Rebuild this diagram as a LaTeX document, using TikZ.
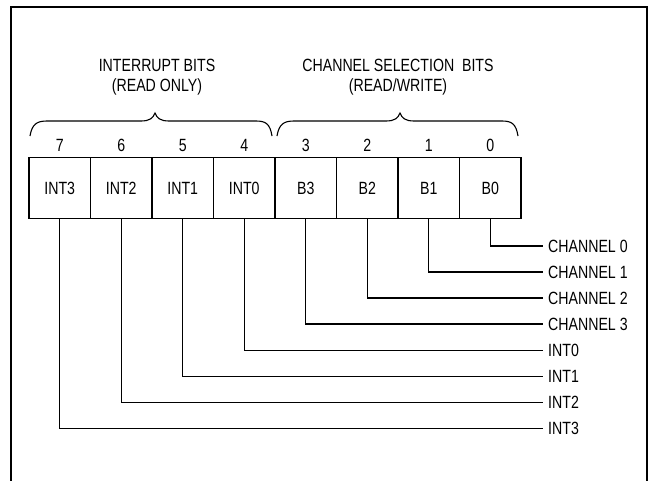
\documentclass[tikz,border=0pt]{standalone}
\usepackage{fontspec}
\setmainfont[FakeStretch=0.8]{Liberation Sans}
\begin{document}
\begin{tikzpicture}[x=1pt,y=-1pt,
  txt/.style={font=\fontsize{17.7}{19}\selectfont, inner sep=0pt},
  bitbox/.style={draw, line width=1.4pt, minimum width=61.5pt, minimum height=60.5pt, inner sep=0pt, font=\fontsize{17.7}{19}\selectfont},
  lbl/.style={txt, anchor=west, inner xsep=5pt},
  conn/.style={line width=1.1pt},
  bracepath/.style={line width=1.1pt},
  frame/.style={line width=1.8pt}]
\useasboundingbox (0,0) rectangle (650,480);
% frame
\draw[frame] (11,490) -- (11,7) -- (647,7) -- (647,490);
% titles
\node[txt] (t1a) at (157,65) {INTERRUPT BITS};
\node[txt] (t1b) at (157,87) {(READ ONLY)};
\node[txt] (t2a) at (398,65) {CHANNEL SELECTION~ BITS};
\node[txt] (t2b) at (398,87) {(READ/WRITE)};
% braces
\draw[bracepath] (30,136) .. controls (32,124) and (37,121) .. (47,121) -- (141,121)
  .. controls (150,121) and (153,118) .. (155,113) .. controls (157,118) and (160,121) .. (169,121)
  -- (256,121) .. controls (266,121) and (270,124) .. (272,136);
\draw[bracepath] (277,136) .. controls (279,124) and (284,121) .. (294,121) -- (386,121)
  .. controls (395,121) and (398,118) .. (400,113) .. controls (402,118) and (405,121) .. (414,121)
  -- (502,121) .. controls (512,121) and (516,124) .. (518,136);
% bit numbers and boxes
\foreach \i/\n/\t in {0/7/INT3,1/6/INT2,2/5/INT1,3/4/INT0,4/3/B3,5/2/B2,6/1/B1,7/0/B0}{
  \node[txt] (n\n) at ({59.75+61.5*\i},145) {\n};
  \node[bitbox] (b\n) at ({59.75+61.5*\i},188) {\t};
}
% labels
\node[lbl] (l0) at (543,246) {CHANNEL 0};
\node[lbl] (l1) at (543,272) {CHANNEL 1};
\node[lbl] (l2) at (543,298) {CHANNEL 2};
\node[lbl] (l3) at (543,324) {CHANNEL 3};
\node[lbl] (l4) at (543,350.5) {INT0};
\node[lbl] (l5) at (543,376.5) {INT1};
\node[lbl] (l6) at (543,402.5) {INT2};
\node[lbl] (l7) at (543,428.5) {INT3};
% connectors
\foreach \k in {0,...,7}{
  \draw[conn] (b\k.south) |- (l\k.west);
}
\end{tikzpicture}
\end{document}
